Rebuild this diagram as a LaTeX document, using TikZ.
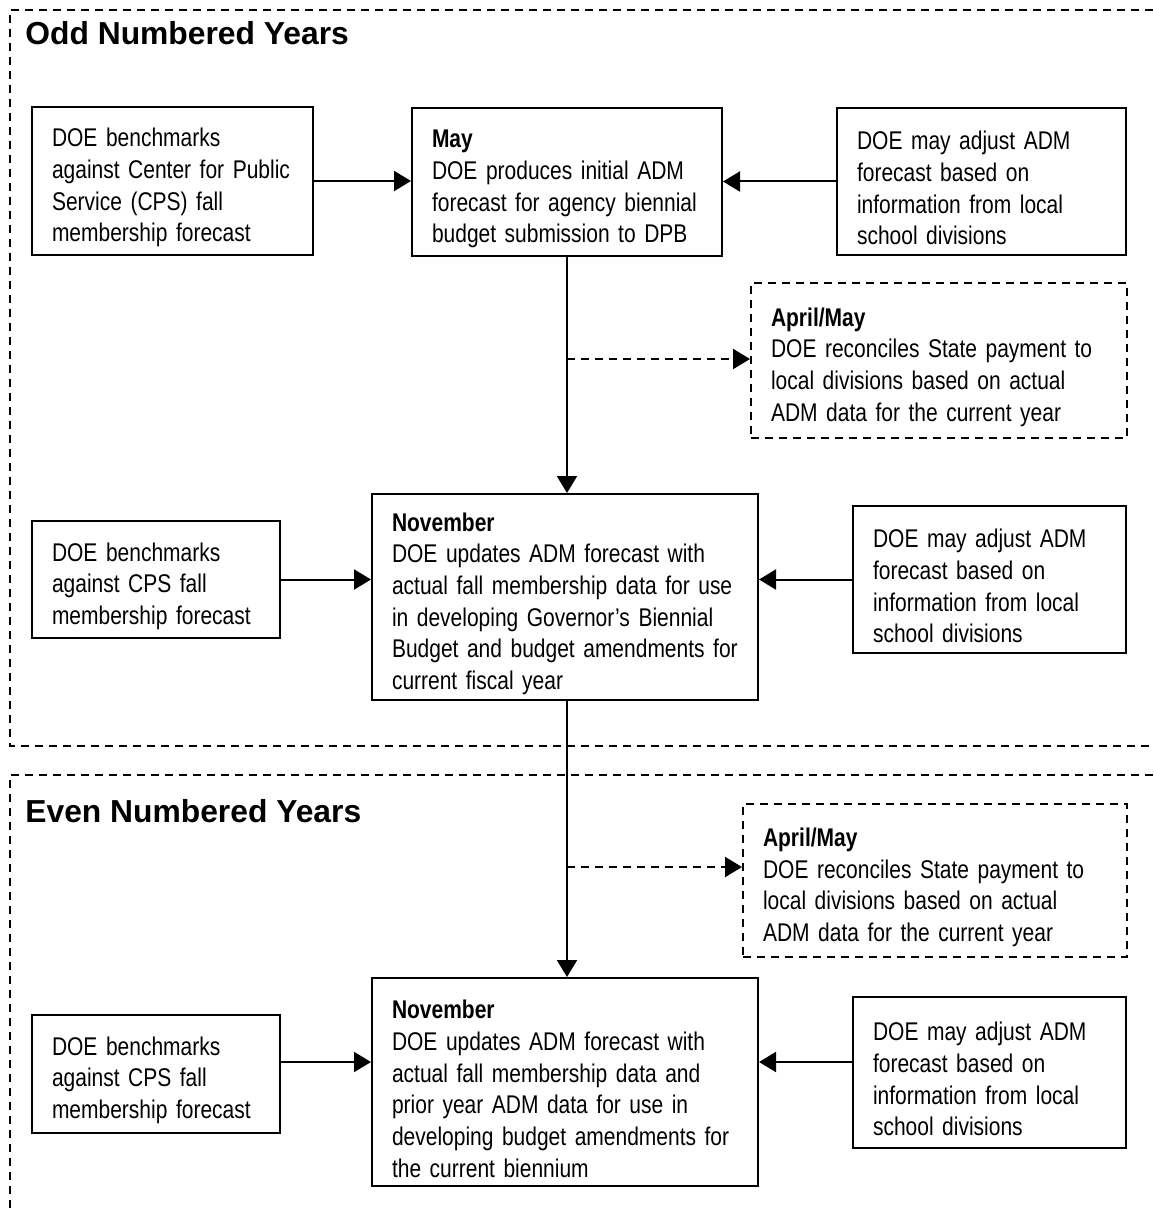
\documentclass[tikz,border=0pt]{standalone}
\usepackage{fontspec}
\setmainfont{Liberation Sans}[FakeStretch=0.82]
\newfontfamily\headfont{Liberation Sans}
\usetikzlibrary{arrows.meta}

\newcommand{\bodyfont}{\fontsize{12.8pt}{15.85pt}\selectfont}
\newcommand{\titlestyle}{\headfont\bfseries\fontsize{15.9pt}{19pt}\selectfont}
% taller first line, so the text block sits a little lower in each box
\newcommand{\firststrut}{\rule{0pt}{16pt}}

\tikzset{
  x=0.5pt, y=-0.5pt,
  stagebox/.style={draw, line width=1pt, align=left, inner xsep=10pt,
    inner ysep=0pt, font=\bodyfont, execute at begin node=\firststrut},
  dashbox/.style={stagebox, dash pattern=on 4pt off 3pt},
  conn/.style={line width=1pt, -{Triangle[length=8.5pt 0 0,width=10pt 0 0]}},
  dconn/.style={conn, dash pattern=on 4pt off 3pt},
  frameline/.style={line width=1pt, dash pattern=on 4pt off 3pt},
  heading/.style={font=\titlestyle, inner sep=0pt, anchor=base west},
}

\begin{document}
\begin{tikzpicture}
\useasboundingbox (0,0) rectangle (1153,1213);

% year frames
\draw[frameline] (1153,10) -- (10,10) -- (10,746) -- (1153,746);
\draw[frameline] (1153,775) -- (10,775) -- (10,1213);

\node[heading] (oddt) at (25,45) {Odd Numbered Years};
\node[heading] (event) at (25,822) {Even Numbered Years};

% odd numbered years
\node[stagebox, text width=120.5pt, minimum height=74pt] (a1) at (172.5,181)
  {DOE benchmarks\\against Center for Public\\Service (CPS) fall\\membership forecast};
\node[stagebox, text width=135pt, minimum height=74pt] (b1) at (567,182)
  {\textbf{May}\\DOE produces initial ADM\\forecast for agency biennial\\budget submission to DPB};
\node[stagebox, text width=124.5pt, minimum height=73.5pt] (c1) at (981.5,181.5)
  {DOE may adjust ADM\\forecast based on\\information from local\\school divisions};
\node[dashbox, text width=168pt, minimum height=77.5pt] (d1) at (939,360.5)
  {\textbf{April/May}\\DOE reconciles State payment to\\local divisions based on actual\\ADM data for the current year};
\node[stagebox, text width=104pt, minimum height=58.5pt] (a2) at (156,579.5)
  {DOE benchmarks\\against CPS fall\\membership forecast};
\node[stagebox, text width=173pt, minimum height=103pt] (b2) at (565,597)
  {\textbf{November}\\DOE updates ADM forecast with\\actual fall membership data for use\\in developing Governor’s Biennial\\Budget and budget amendments for\\current fiscal year};
\node[stagebox, text width=116.5pt, minimum height=73.5pt] (c2) at (989.5,579.5)
  {DOE may adjust ADM\\forecast based on\\information from local\\school divisions};

% even numbered years
\node[dashbox, text width=172pt, minimum height=76.5pt] (d2) at (935,880.5)
  {\textbf{April/May}\\DOE reconciles State payment to\\local divisions based on actual\\ADM data for the current year};
\node[stagebox, text width=104pt, minimum height=59pt] (a3) at (156,1073.5)
  {DOE benchmarks\\against CPS fall\\membership forecast};
\node[stagebox, text width=173pt, minimum height=104pt] (b3) at (565,1082)
  {\textbf{November}\\DOE updates ADM forecast with\\actual fall membership data and\\prior year ADM data for use in\\developing budget amendments for\\the current biennium};
\node[stagebox, text width=116.5pt, minimum height=75.5pt] (c3) at (989.5,1072.5)
  {DOE may adjust ADM\\forecast based on\\information from local\\school divisions};

\coordinate (m1) at (567,359);
\coordinate (m2) at (567,867);
\coordinate (y3) at (0,1062);

% connectors
\draw[conn] (a1.east) -- (a1.east -| b1.west);
\draw[conn] (c1.west) -- (c1.west -| b1.east);
\draw[conn] (b1.south) -- (b1.south |- b2.north);
\draw[dconn] (m1) -- (m1 -| d1.west);
\draw[conn] (a2.east) -- (a2.east -| b2.west);
\draw[conn] (c2.west) -- (c2.west -| b2.east);
\draw[conn] (b1.south |- b2.south) -- (b1.south |- b3.north);
\draw[dconn] (m2) -- (m2 -| d2.west);
\draw[conn] (a3.east |- y3) -- (b3.west |- y3);
\draw[conn] (c3.west |- y3) -- (b3.east |- y3);
\end{tikzpicture}
\end{document}
